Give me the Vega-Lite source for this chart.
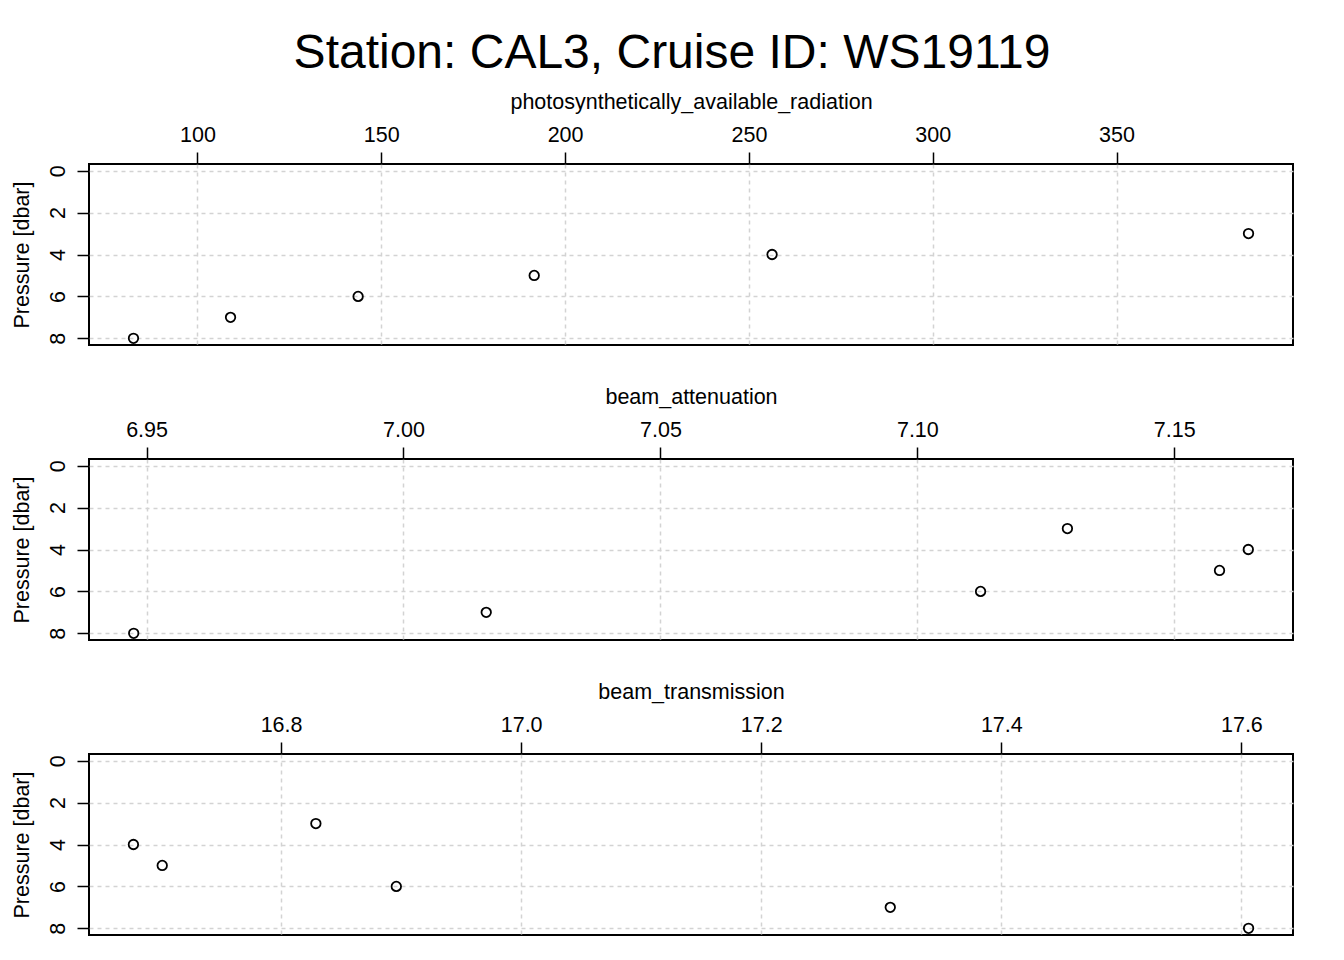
{
  "$schema": "https://vega.github.io/schema/vega-lite/v6.json",
  "padding": {"left": 10, "top": 30, "right": 0, "bottom": 0},
  "title": {"text": "Station: CAL3, Cruise ID: WS19119", "fontSize": 48, "font": "Liberation Sans", "fontWeight": "normal", "color": "black", "anchor": "middle", "offset": 12, "dx": 20},
  "data": {"values": [
    {"pressure": 3, "par": 385.9, "beam_attenuation": 7.1292, "beam_transmission": 16.829},
    {"pressure": 4, "par": 256.3, "beam_attenuation": 7.1644, "beam_transmission": 16.677},
    {"pressure": 5, "par": 191.6, "beam_attenuation": 7.1588, "beam_transmission": 16.701},
    {"pressure": 6, "par": 143.7, "beam_attenuation": 7.1123, "beam_transmission": 16.896},
    {"pressure": 7, "par": 109.0, "beam_attenuation": 7.0161, "beam_transmission": 17.3075},
    {"pressure": 8, "par": 82.6, "beam_attenuation": 6.9475, "beam_transmission": 17.606}
  ]},
  "config": {
    "font": "Liberation Sans",
    "view": {"stroke": "black", "strokeWidth": 2},
    "axis": {
      "domain": false,
      "tickColor": "black", "tickSize": 12, "tickWidth": 1.5,
      "labelFont": "Liberation Sans", "labelFontSize": 21.5, "labelColor": "black",
      "titleFont": "Liberation Sans", "titleFontSize": 21.5, "titleFontWeight": "normal", "titleColor": "black",
      "gridColor": "#D3D3D3", "gridDash": [4, 4], "gridWidth": 1.5
    },
    "axisY": {"labelAngle": -90, "labelAlign": "center", "labelBaseline": "bottom", "labelPadding": 8, "titlePadding": 14},
    "axisX": {"labelPadding": 6, "titlePadding": 11}
  },
  "spacing": 114,
  "bounds": "flush",
  "vconcat": [
    {
      "width": 1204, "height": 181,
      "mark": {"type": "point", "shape": "circle", "filled": false, "color": "black", "size": 90, "strokeWidth": 1.8, "opacity": 1},
      "encoding": {
        "x": {"field": "par", "type": "quantitative", "scale": {"domain": [70.5, 398.0], "nice": false, "zero": false},
              "axis": {"orient": "top", "title": "photosynthetically_available_radiation", "values": [100, 150, 200, 250, 300, 350], "format": "d"}},
        "y": {"field": "pressure", "type": "quantitative", "scale": {"domain": [-0.32, 8.32], "reverse": true, "nice": false, "zero": false},
              "axis": {"title": "Pressure [dbar]", "values": [0, 2, 4, 6, 8]}}
      }
    },
    {
      "width": 1204, "height": 181,
      "mark": {"type": "point", "shape": "circle", "filled": false, "color": "black", "size": 90, "strokeWidth": 1.8, "opacity": 1},
      "encoding": {
        "x": {"field": "beam_attenuation", "type": "quantitative", "scale": {"domain": [6.9388, 7.1731], "nice": false, "zero": false},
              "axis": {"orient": "top", "title": "beam_attenuation", "values": [6.95, 7.0, 7.05, 7.1, 7.15], "format": ".2f"}},
        "y": {"field": "pressure", "type": "quantitative", "scale": {"domain": [-0.32, 8.32], "reverse": true, "nice": false, "zero": false},
              "axis": {"title": "Pressure [dbar]", "values": [0, 2, 4, 6, 8]}}
      }
    },
    {
      "width": 1204, "height": 181,
      "mark": {"type": "point", "shape": "circle", "filled": false, "color": "black", "size": 90, "strokeWidth": 1.8, "opacity": 1},
      "encoding": {
        "x": {"field": "beam_transmission", "type": "quantitative", "scale": {"domain": [16.640, 17.643], "nice": false, "zero": false},
              "axis": {"orient": "top", "title": "beam_transmission", "values": [16.8, 17.0, 17.2, 17.4, 17.6], "format": ".1f"}},
        "y": {"field": "pressure", "type": "quantitative", "scale": {"domain": [-0.32, 8.32], "reverse": true, "nice": false, "zero": false},
              "axis": {"title": "Pressure [dbar]", "values": [0, 2, 4, 6, 8]}}
      }
    }
  ]
}
